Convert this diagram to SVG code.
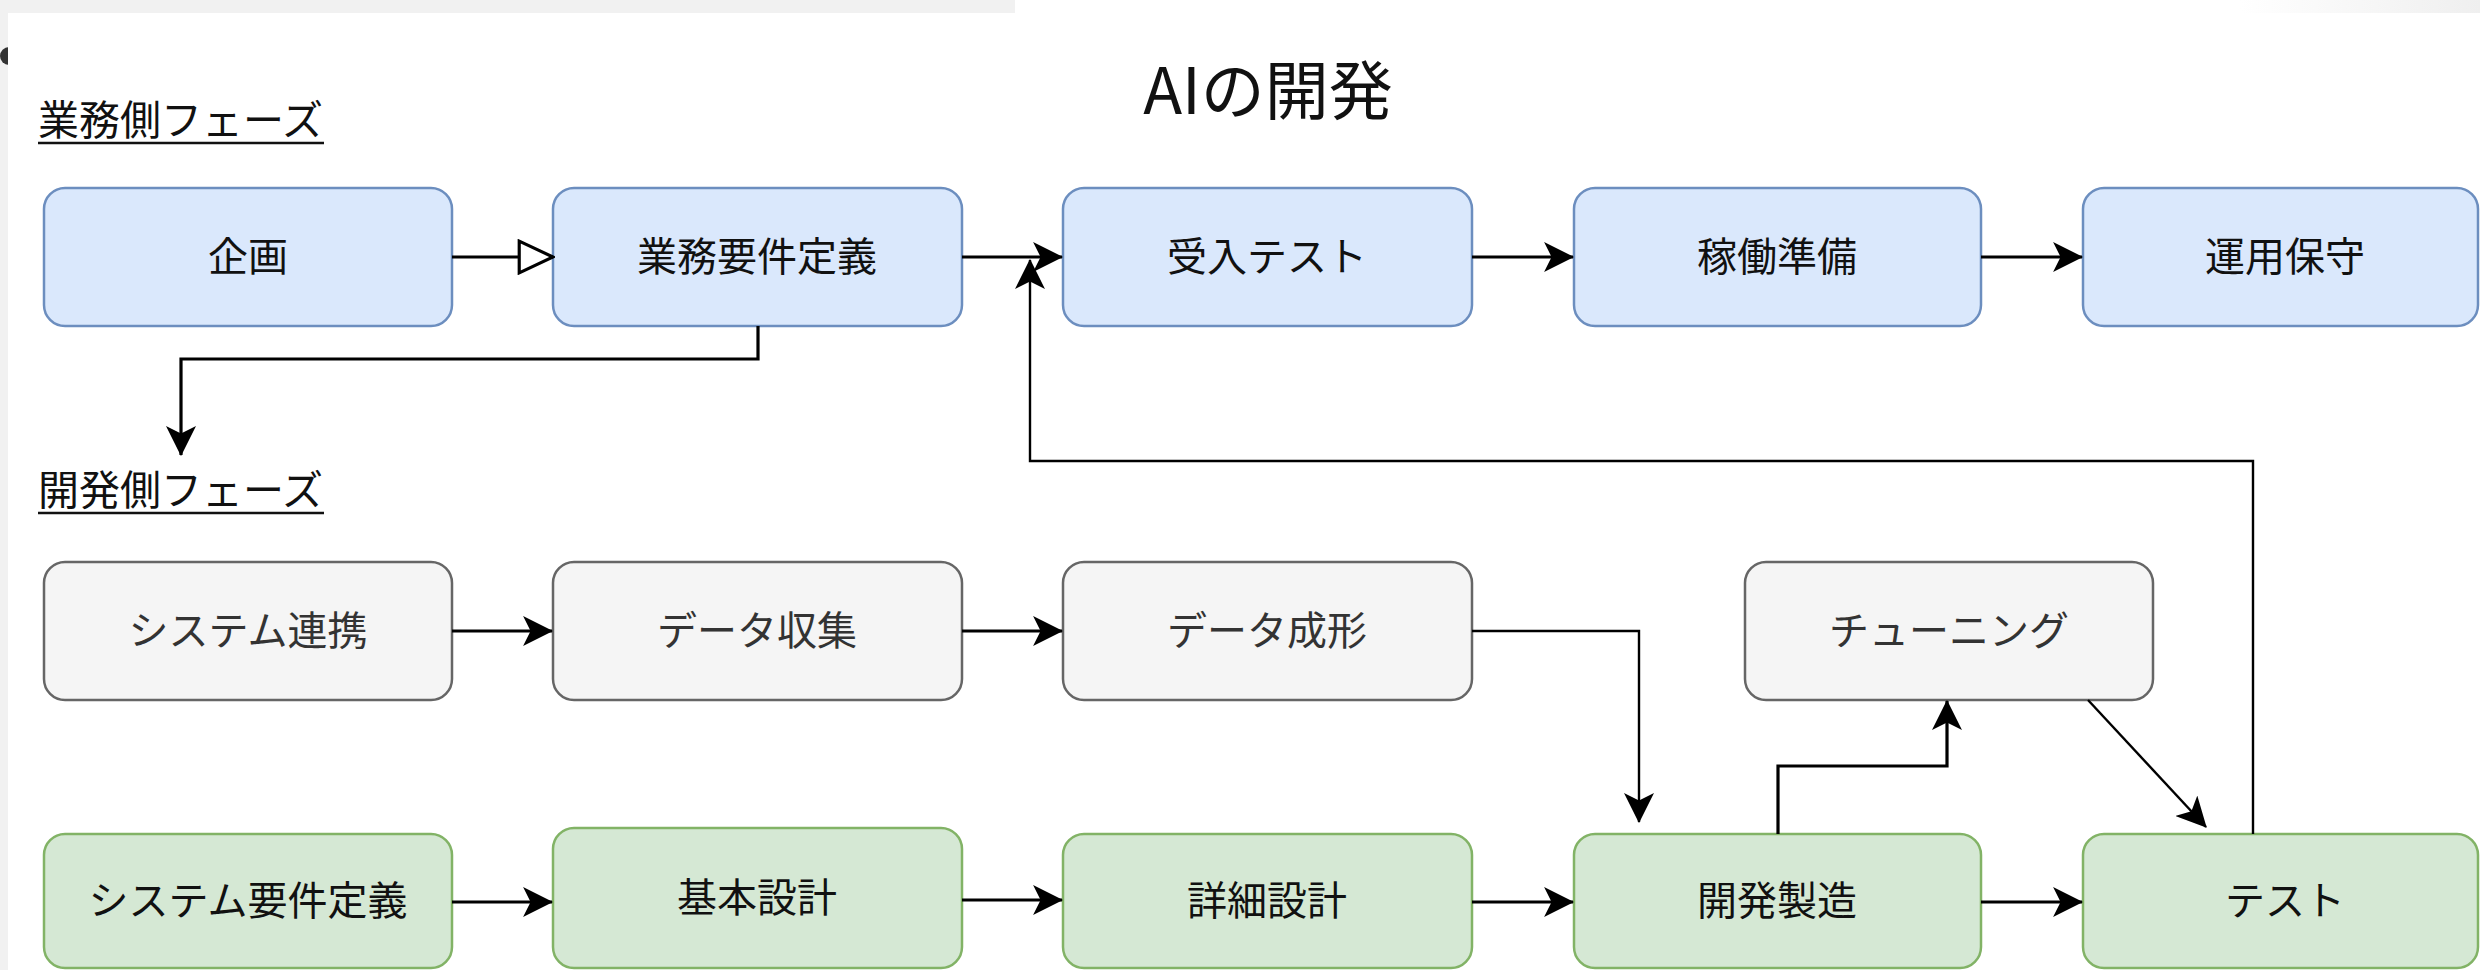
<svg xmlns="http://www.w3.org/2000/svg" width="2480" height="970" viewBox="0 0 2480 970">
<defs>
<linearGradient id="topfade" x1="0" y1="0" x2="1" y2="0">
<stop offset="0" stop-color="#ffffff"/>
<stop offset="1" stop-color="#efefef"/>
</linearGradient>
<marker id="arr" markerUnits="userSpaceOnUse" markerWidth="30" markerHeight="30" viewBox="0 0 28 28" refX="27" refY="14" orient="auto">
<path d="M0,0 L28,14 L0,28 L7,14 Z" fill="#000"/>
</marker>
<marker id="open" markerUnits="userSpaceOnUse" markerWidth="38" markerHeight="36" viewBox="0 0 36 34" refX="34" refY="17" orient="auto">
<path d="M2,2 L34,17 L2,32 Z" fill="#fff" stroke="#000" stroke-width="3"/>
</marker>
</defs>
<style>
.b rect{fill:#dae8fc;stroke:#6c8ebf;stroke-width:2.5}
.g rect{fill:#f5f5f5;stroke:#666666;stroke-width:2.5}
.v rect{fill:#d5e8d4;stroke:#82b366;stroke-width:2.5}
text{font-family:"Noto Sans CJK JP","Noto Sans",sans-serif}
.lbl{font-size:40px;text-anchor:middle;fill:#111}
.g .lbl{fill:#333333}
.ph{font-size:41px;fill:#111}
#edges path{fill:none;stroke:#000;stroke-width:3.2}
#edges .thin{stroke-width:2.4}
</style>
<rect x="0" y="0" width="2480" height="970" fill="#f1f1f1"/>
<rect x="1015" y="0" width="1225" height="13" fill="#ffffff"/>
<rect x="2240" y="0" width="240" height="13" fill="url(#topfade)"/>
<circle cx="9" cy="56" r="9" fill="#333"/>
<rect x="8" y="13" width="2472" height="957" fill="#ffffff"/>

<g id="title"><text x="1268" y="114" font-size="64" text-anchor="middle" fill="#111">AIの開発</text></g>
<g id="phase-biz"><text class="ph" x="38" y="135">業務側フェーズ</text><line x1="38" y1="143" x2="324" y2="143" stroke="#111" stroke-width="2.5"/></g>
<g id="phase-dev"><text class="ph" x="38" y="505">開発側フェーズ</text><line x1="38" y1="513" x2="324" y2="513" stroke="#111" stroke-width="2.5"/></g>

<g id="n-kikaku" class="b"><rect x="44" y="188" width="408" height="138" rx="21"/><text class="lbl" x="248" y="271">企画</text></g>
<g id="n-gyomu" class="b"><rect x="553" y="188" width="409" height="138" rx="21"/><text class="lbl" x="757" y="271">業務要件定義</text></g>
<g id="n-ukeire" class="b"><rect x="1063" y="188" width="409" height="138" rx="21"/><text class="lbl" x="1267" y="271">受入テスト</text></g>
<g id="n-kado" class="b"><rect x="1574" y="188" width="407" height="138" rx="21"/><text class="lbl" x="1777" y="271">稼働準備</text></g>
<g id="n-unyo" class="b"><rect x="2083" y="188" width="395" height="138" rx="21"/><text class="lbl" x="2285" y="271">運用保守</text></g>

<g id="n-renkei" class="g"><rect x="44" y="562" width="408" height="138" rx="21"/><text class="lbl" x="248" y="645">システム連携</text></g>
<g id="n-shushu" class="g"><rect x="553" y="562" width="409" height="138" rx="21"/><text class="lbl" x="757" y="645">データ収集</text></g>
<g id="n-seikei" class="g"><rect x="1063" y="562" width="409" height="138" rx="21"/><text class="lbl" x="1267" y="645">データ成形</text></g>
<g id="n-tuning" class="g"><rect x="1745" y="562" width="408" height="138" rx="21"/><text class="lbl" x="1949" y="645">チューニング</text></g>

<g id="n-sysreq" class="v"><rect x="44" y="834" width="408" height="134" rx="21"/><text class="lbl" x="248" y="915">システム要件定義</text></g>
<g id="n-kihon" class="v"><rect x="553" y="828" width="409" height="140" rx="21"/><text class="lbl" x="757" y="912">基本設計</text></g>
<g id="n-shosai" class="v"><rect x="1063" y="834" width="409" height="134" rx="21"/><text class="lbl" x="1267" y="915">詳細設計</text></g>
<g id="n-kaihatsu" class="v"><rect x="1574" y="834" width="407" height="134" rx="21"/><text class="lbl" x="1777" y="915">開発製造</text></g>
<g id="n-test" class="v"><rect x="2083" y="834" width="395" height="134" rx="21"/><text class="lbl" x="2285" y="915">テスト</text></g>

<g id="edges">
<path d="M452,257 H553" marker-end="url(#open)"/>
<path d="M962,257 H1062" marker-end="url(#arr)"/>
<path class="thin" d="M2253,834 V461 H1030 V260" marker-end="url(#arr)"/>
<path d="M1472,257 H1573" marker-end="url(#arr)"/>
<path d="M1981,257 H2082" marker-end="url(#arr)"/>
<path d="M758,326 V359 H181 V455" marker-end="url(#arr)"/>
<path d="M452,631 H552" marker-end="url(#arr)"/>
<path d="M962,631 H1062" marker-end="url(#arr)"/>
<path class="thin" d="M1472,631 H1639 V822" marker-end="url(#arr)"/>
<path d="M1778,834 V766 H1947 V701" marker-end="url(#arr)"/>
<path class="thin" d="M2088,700 L2206,827" marker-end="url(#arr)"/>
<path d="M452,902 H552" marker-end="url(#arr)"/>
<path d="M962,900 H1062" marker-end="url(#arr)"/>
<path d="M1472,902 H1573" marker-end="url(#arr)"/>
<path d="M1981,902 H2082" marker-end="url(#arr)"/>
</g>
</svg>
